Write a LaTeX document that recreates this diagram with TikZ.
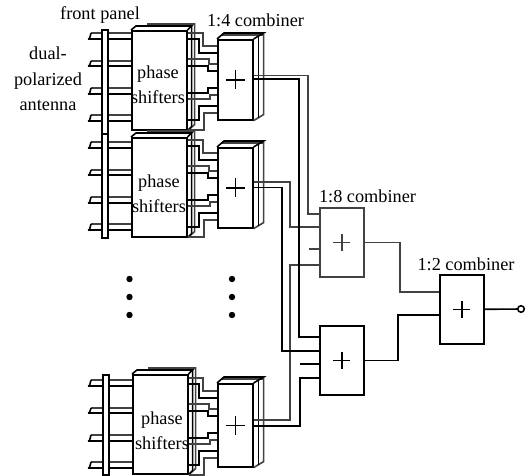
\documentclass[tikz,border=0pt]{standalone}
\usepackage{fontspec}
\setmainfont{Liberation Serif}
\usetikzlibrary{positioning}
\def\px{0.75pt}
\tikzset{
bwire/.style={black,line width=1.2pt},
gwire/.style={black!74,line width=1.2pt},
lbl/.style={inner sep=0pt,align=center,font=\fontsize{13.7}{19}\selectfont},
bx/.style={draw=black,fill=white,line width=1.2pt,inner sep=0pt,minimum width=#1*\px},
}
\begin{document}
\begin{tikzpicture}[x=0.75pt,y=-0.75pt]
\useasboundingbox (0,0) rectangle (531,475);
% one column of antenna, phase shifters and 1:4 combiner
\foreach \m/\psx/\psy/\cby/\cbh/\wy/\ay/\tx/\ty/\pny/\pnh in
{1/131/30/39/80/0/0/158/85/29/104,
2/131/137/147/80/107/109/159/194/133/104,
3/132/374/383/83/345/347/162/430.5/374/100}{
\node[bx=55,minimum height=99*\px,anchor=north west] (ps\m) at (\psx,\psy) {};
\node[bx=35,minimum height=\cbh*\px,anchor=north west] (cb\m) at (217,\cby) {};
% back faces
\draw[gwire] ([shift={(16,-6)}]ps\m.north west)--([shift={(7,-6)}]ps\m.north east)--([shift={(7,-6)}]ps\m.south east)--(ps\m.south east);
\draw[bwire] (ps\m.north west)--+(5,-4)--([shift={(4,-4)}]ps\m.north east)--(ps\m.north east);
\draw[bwire] ([shift={(4,-4)}]ps\m.north east)--([shift={(4,-4)}]ps\m.south east)--(ps\m.south east);
\draw[gwire] ([shift={(4,-4)}]cb\m.north west)--([shift={(10,-4)}]cb\m.north east);
\draw[gwire] ([shift={(10,-6)}]cb\m.north east)--([shift={(10,-6)}]cb\m.south east)--(cb\m.south east);
\draw[bwire] (cb\m.north west)--+(7,-6)--([shift={(10,-6)}]cb\m.north east)--(cb\m.north east);
\draw[bwire] ([shift={(5,-3)}]cb\m.north east)--([shift={(5,-3)}]cb\m.south east);
% antenna feeds
\foreach \i/\ya/\yb in {1/33/39,2/61/66,3/88/94,4/115/121}{
\coordinate (ag\m\i) at (91,\ya+\ay);
\coordinate (ab\m\i) at (88,\yb+\ay);
\draw[gwire] (ag\m\i)--(ps\m.west |- ag\m\i);
\draw[bwire] (ab\m\i)--(ps\m.west |- ab\m\i);
\draw[bwire] (ab\m\i) to[out=-20,in=-120] (ag\m\i);
}
\node[bx=6,minimum height=\pnh*\px,anchor=north west] (pn\m) at (\psx-30,\pny) {};
% phase shifters to combiner
\foreach \ya/\xa/\yb/\wt in {33/203/46/gwire,59/209/64/gwire,99/210/95/gwire,130/204/113/gwire,
39/199/53/bwire,66/208/71/bwire,93/208/88/bwire,120/199/106/bwire}{
\draw[\wt] (ps\m.east |- 0,\ya+\wy)-|(\xa,\yb+\wy)--(cb\m.west |- 0,\yb+\wy);
}
\node[lbl] (ptxt\m) at (\tx,\ty) {phase\\shifters};
\draw[bwire] (cb\m.center)+(-9.5,0)--+(9.5,0) (cb\m.center)+(0,-9.5)--+(0,9.5);
}
% combiners on the right
\node[bx=44,draw=black!74,minimum height=69*\px,anchor=north west] (cu) at (319,207) {};
\node[bx=44,minimum height=69*\px,anchor=north west] (cl) at (319,325) {};
\node[bx=44,minimum height=69*\px,anchor=north west] (cf) at (439,274) {};
\draw[gwire] (cu.center)+(-8.5,0)--+(8.5,0) (cu.center)+(0,-8.5)--+(0,8.5);
\draw[bwire] (cl.center)+(-8.5,0)--+(8.5,0) (cl.center)+(0,-8.5)--+(0,8.5);
\draw[bwire] (cf.center)+(-8.5,0)--+(8.5,0) (cf.center)+(0,-8.5)--+(0,8.5);
\coordinate (su) at (309,249);
\coordinate (sl) at (300,364);
\node[circle,draw=black,fill=white,line width=1.2pt,inner sep=0pt,minimum size=6.5*\px] (out) at (521,309) {};
\draw[gwire] (cb1.east |- 0,75.5)-|(308,214)--(cu.west |- 0,214);
\draw[gwire] (cb2.east |- 0,182)-|(290,227)--(cu.west |- 0,227);
\draw[gwire] (cb3.east |- 0,420)-|(290,265)--(cu.west |- 0,265);
\draw[gwire] (su)--(cu.west |- su);
\draw[gwire] (cu.east)-|(400,292)--(cf.west |- 0,292);
\draw[bwire] (cb1.east |- 0,79)-|(299,337)--(cl.west |- 0,337);
\draw[bwire] (cb2.east |- 0,187.5)-|(282,351)--(cl.west |- 0,351);
\draw[bwire] (cb3.east |- 0,426)-|(300,378)--(cl.west |- 0,378);
\draw[bwire] (sl)--(cl.west |- sl);
\draw[bwire] (cl.east)-|(398,315)--(cf.west |- 0,315);
\draw[bwire] (cf.east)--(out);
% dots
\foreach \dx in {129.5,232}{
\foreach \dy in {279,297,315}{
\fill (\dx,\dy) circle (3.2);
}}
\node[lbl] (fp) at (100,15) {front panel};
\node[lbl] (ant) at (48,79) {dual-\\polarized\\antenna};
\node[lbl] (t4) at (255.5,20) {1:4 combiner};
\node[lbl] (t8) at (367.5,196) {1:8 combiner};
\node[lbl] (t2) at (466,264) {1:2 combiner};
\end{tikzpicture}
\end{document}
